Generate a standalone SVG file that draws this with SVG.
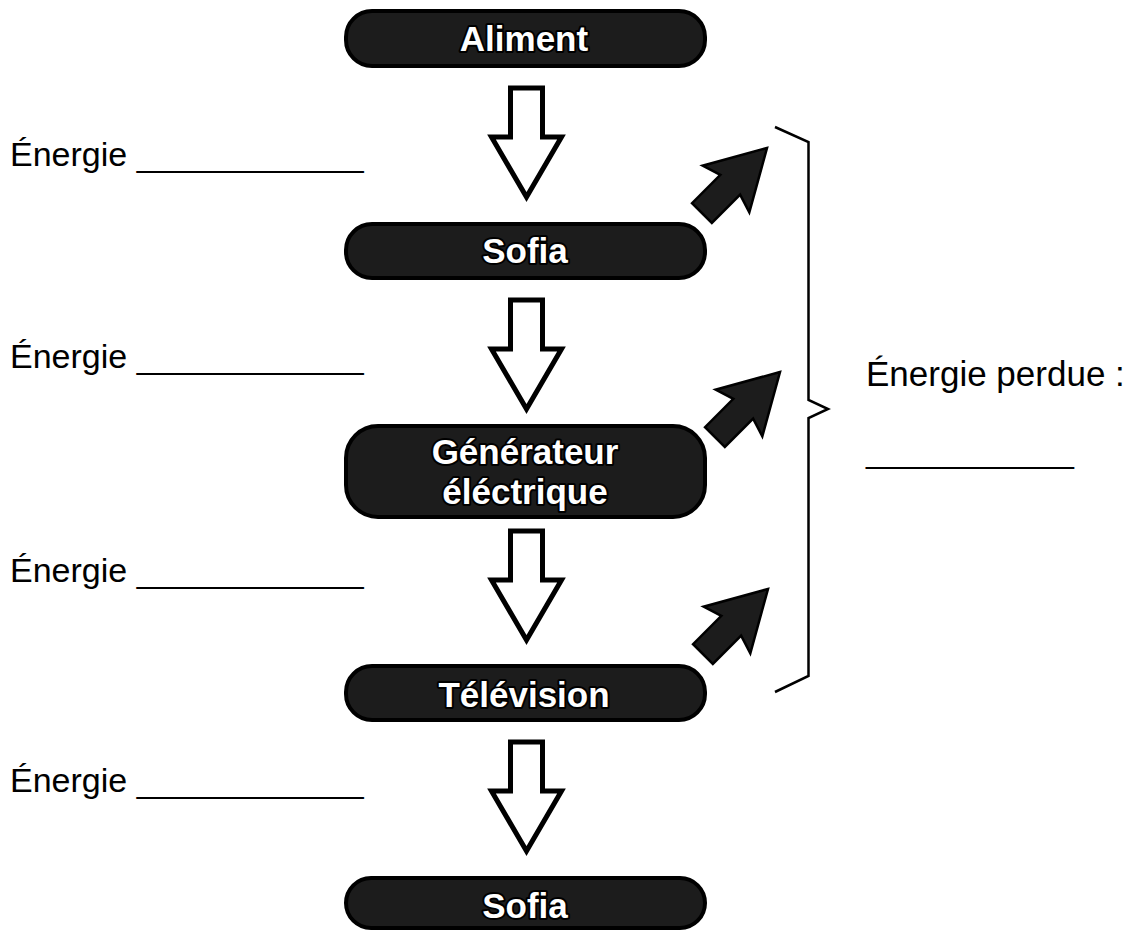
<svg xmlns="http://www.w3.org/2000/svg" width="1137" height="930" viewBox="0 0 1137 930">
<defs>
<style>
.box{fill:#1c1c1c;stroke:#000;stroke-width:4}
.bt{font-family:"Liberation Sans",Arial,sans-serif;font-weight:bold;font-size:35px;fill:#fff;stroke:#000;stroke-width:4;paint-order:stroke;stroke-linejoin:round;text-anchor:middle}
.lbl{font-family:"Liberation Sans",Arial,sans-serif;font-size:34px;fill:#000}
.lbl2{font-family:"Liberation Sans",Arial,sans-serif;font-size:35px;fill:#000}
.hollow{fill:#fff;stroke:#000;stroke-width:5;stroke-linejoin:miter;stroke-miterlimit:10}
.loss{fill:#1c1c1c;stroke:#000;stroke-width:2.5;stroke-linejoin:miter}
.brace{fill:none;stroke:#000;stroke-width:2.5}
</style>
<path id="down" d="M-16,0 H16 V49 H35 L0,109 L-35,49 H-16 Z"/>
<path id="diag" d="M0,0 L-58,-33 L-52,-14 L-92,-14 L-92,14 L-52,14 L-58,33 Z"/>
</defs>
<rect width="1137" height="930" fill="#fff"/>

<g id="node-aliment">
<rect class="box" x="346" y="11" width="359" height="55" rx="26"/>
<text class="bt" x="524" y="51">Aliment</text>
</g>
<g id="node-sofia1">
<rect class="box" x="346" y="224" width="359" height="54" rx="26"/>
<text class="bt" x="525" y="263">Sofia</text>
</g>
<g id="node-generateur">
<rect class="box" x="346" y="426" width="359" height="91" rx="32"/>
<text class="bt" x="525" y="464">Générateur</text>
<text class="bt" x="525" y="504">éléctrique</text>
</g>
<g id="node-television">
<rect class="box" x="346" y="666" width="359" height="54" rx="26"/>
<text class="bt" x="524" y="707">Télévision</text>
</g>
<g id="node-sofia2">
<rect class="box" x="346" y="878" width="359" height="50" rx="25"/>
<text class="bt" x="525" y="918">Sofia</text>
</g>

<g id="connectors">
<use href="#down" class="hollow" transform="translate(526.5,88)"/>
<use href="#down" class="hollow" transform="translate(526.5,300)"/>
<use href="#down" class="hollow" transform="translate(526.5,531)"/>
<use href="#down" class="hollow" transform="translate(526.5,742)"/>
<use href="#diag" class="loss" transform="translate(767,148) rotate(-45)"/>
<use href="#diag" class="loss" transform="translate(780,372) rotate(-45)"/>
<use href="#diag" class="loss" transform="translate(768,589) rotate(-45)"/>
<path class="brace" d="M775,127 L808.5,142 V400 L828,409 L808.5,418 V676 L775,692"/>
</g>

<g id="labels">
<text class="lbl" x="10" y="166">Énergie ____________</text>
<text class="lbl" x="10" y="368">Énergie ____________</text>
<text class="lbl" x="10" y="582">Énergie ____________</text>
<text class="lbl" x="10" y="792">Énergie ____________</text>
<text class="lbl2" x="866" y="386">Énergie perdue :</text>
<text class="lbl" x="866" y="462">___________</text>
</g>
</svg>
